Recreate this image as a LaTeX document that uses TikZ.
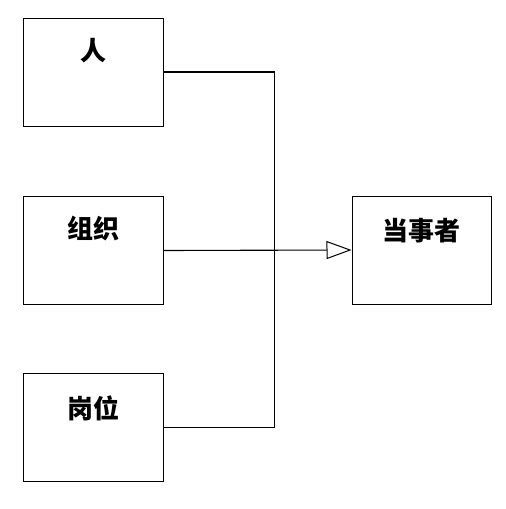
\documentclass[tikz,border=0pt]{standalone}
\usepackage{fontspec}
\setmainfont{Noto Sans CJK SC}
\usetikzlibrary{arrows.meta}
\begin{document}
\begin{tikzpicture}[x=1pt,y=-1pt,
  box/.style={draw,line width=1pt,minimum width=140pt,minimum height=108pt,inner sep=0pt},
  lbl/.style={font=\fontsize{26}{26}\selectfont\bfseries,inner sep=0pt},
  conn/.style={line width=1.1pt}]
\useasboundingbox (0,0) rectangle (506,509);
\node[box] (p) at (93,72) {};
\node[box] (org) at (93,250.5) {};
\node[box] (post) at (93,427.5) {};
\node[box,minimum width=139pt] (party) at (421.5,250) {};
\node[lbl] (tp) at (93,51) {人};
\node[lbl] (torg) at (93,229) {组织};
\node[lbl] (tpost) at (93,408) {岗位};
\node[lbl] (tparty) at (421.5,231) {当事者};
\coordinate (j) at (274.5,250);
\draw[conn] (p.east) -| (j) |- (post.east);
\draw[conn,-{Triangle[open,length=25pt,width=18pt,line width=1pt]}] (org.east) -- (party.west);
\end{tikzpicture}
\end{document}
